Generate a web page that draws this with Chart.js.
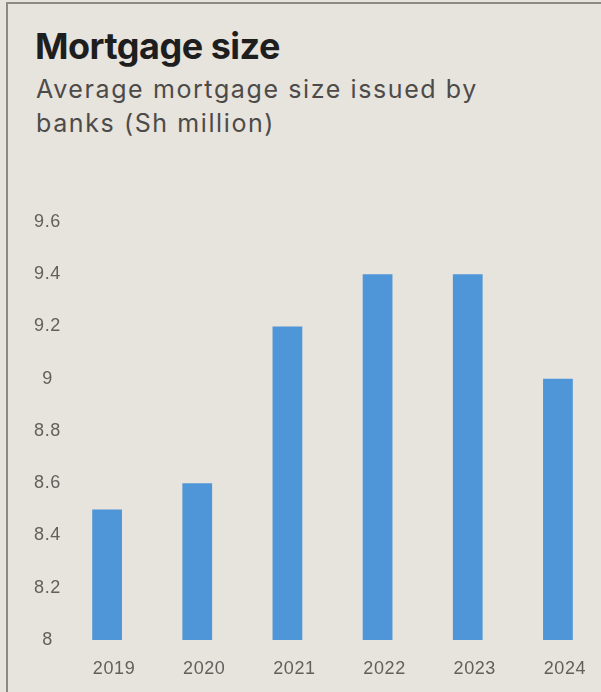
<!DOCTYPE html>
<html>
<head>
<meta charset="utf-8">
<script src="https://cdn.jsdelivr.net/npm/chart.js@4"></script>
<style>
  html, body { margin: 0; padding: 0; width: 601px; height: 692px; overflow: hidden; background: #e7e3dd; }
  #frame { position: absolute; left: 6px; top: 2px; width: 620px; height: 720px; border-top: 2px solid #8d8a86; border-left: 2px solid #8d8a86; box-sizing: border-box; }
  #title { position: absolute; left: 35px; top: 22px; font-family: "Inter", "Liberation Sans", sans-serif; font-weight: 700; font-size: 36px; line-height: 48px; color: #1e1e1e; letter-spacing: -0.5px; }
  #sub { position: absolute; left: 36px; top: 72px; font-family: "Inter", "Liberation Sans", sans-serif; font-size: 25px; line-height: 34px; color: #4d4b49; letter-spacing: 1.6px; }
  #wrap { position: absolute; left: 0; top: 200px; width: 603px; height: 492px; }
</style>
</head>
<body>
<div id="frame"></div>
<div id="title">Mortgage size</div>
<div id="sub">Average mortgage size issued by<br>banks (Sh million)</div>
<div id="wrap"><canvas id="c"></canvas></div>
<script>
const categories = ["2019", "2020", "2021", "2022", "2023", "2024"];
const mortgageSize = [8.5, 8.6, 9.2, 9.4, 9.4, 9.0];
const yMin = 8;
const yMax = 9.6;
const yStep = 0.2;

const spacingPlugin = {
  id: "spacing",
  beforeDraw(chart) { chart.ctx.letterSpacing = "0.6px"; }
};

new Chart(document.getElementById("c"), {
  type: "bar",
  data: {
    labels: categories,
    datasets: [{
      data: mortgageSize,
      backgroundColor: "#4f96d8",
      borderWidth: 0,
      barPercentage: 0.33,
      categoryPercentage: 1.0
    }]
  },
  plugins: [spacingPlugin],
  options: {
    responsive: true,
    maintainAspectRatio: false,
    animation: false,
    layout: { padding: { top: 22, right: 0, left: 0, bottom: 0 } },
    plugins: { legend: { display: false }, tooltip: { enabled: false } },
    scales: {
      x: {
        grid: { display: false, drawTicks: false },
        border: { display: false },
        ticks: { color: "#61605d", font: { family: "Liberation Sans, sans-serif", size: 18 }, padding: 18, labelOffset: 7 },
        afterFit: (s) => { s.height = 52; }
      },
      y: {
        min: yMin, max: yMax,
        grid: { display: false, drawTicks: false },
        border: { display: false },
        ticks: {
          stepSize: yStep,
          color: "#61605d",
          crossAlign: "center",
          font: { family: "Liberation Sans, sans-serif", size: 18 },
          padding: 2,
          callback: (v) => String(Math.round(v * 10) / 10)
        },
        afterFit: (s) => { s.width = 62; }
      }
    }
  }
});
</script>
</body>
</html>
